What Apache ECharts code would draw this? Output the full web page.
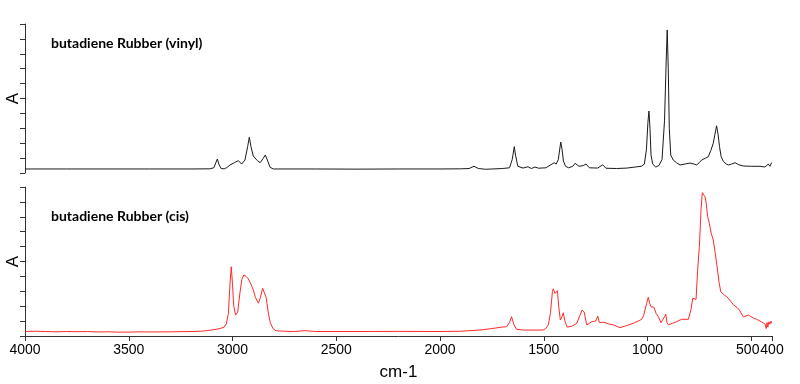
<!DOCTYPE html>
<html>
<head>
<meta charset="utf-8">
<script src="https://cdn.jsdelivr.net/npm/echarts@6/dist/echarts.min.js"></script>
<style>html,body{margin:0;padding:0;background:#fff;}#c{width:800px;height:384px;}</style>
</head>
<body>
<div id="c"></div>
<script>
const xTicks = [4000, 3500, 3000, 2500, 2000, 1500, 1000, 500, 400];
const titleVinyl = 'butadiene Rubber (vinyl)';
const titleCis = 'butadiene Rubber (cis)';

const vinylWn = [4000,3800,3600,3400,3200,3110,3090,3080,3073,3066,3055,3040,3028,3012,2990,2972,2956,2940,2927,2919,2911,2900,2880,2867,2852,2842,2832,2819,2803,2600,2400,2200,2000,1900,1860,1836,1815,1780,1700,1665,1652,1642,1636,1625,1600,1576,1560,1542,1525,1490,1460,1450,1440,1430,1418,1412,1405,1395,1380,1360,1349,1330,1310,1296,1280,1240,1216,1200,1150,1100,1060,1030,1015,1005,998,993,988,983,975,960,945,930,918,910,905,900,895,888,876,859,843,820,795,775,763,750,739,720,707,695,683,675,667,660,653,645,634,620,610,595,578,560,538,500,458,434,425,418,410,402];
const vinylA = [0.27,0.27,0.27,0.27,0.27,0.28,0.35,0.7,0.94,0.6,0.3,0.28,0.36,0.54,0.7,0.83,0.6,0.87,1.77,2.4,1.77,1.14,0.83,0.69,0.98,1.21,0.87,0.38,0.27,0.27,0.26,0.27,0.27,0.28,0.3,0.45,0.3,0.25,0.3,0.35,0.9,1.77,1.2,0.45,0.33,0.42,0.3,0.4,0.32,0.35,0.6,0.69,0.6,0.9,2.08,1.6,0.8,0.45,0.35,0.45,0.65,0.45,0.5,0.6,0.35,0.33,0.55,0.32,0.3,0.33,0.4,0.45,0.6,1.6,3.4,4.16,3.0,1.2,0.6,0.4,0.5,0.9,3.5,7.5,9.6,7.0,3.0,1.2,0.87,0.67,0.54,0.6,0.67,0.6,0.54,0.7,0.87,1.0,1.1,1.5,2.0,2.6,3.17,2.6,1.77,1.1,0.76,0.6,0.54,0.6,0.69,0.55,0.47,0.45,0.45,0.4,0.5,0.6,0.45,0.7];

const cisWn = [4000,3950,3900,3850,3800,3750,3700,3650,3600,3550,3500,3450,3400,3300,3200,3150,3100,3060,3040,3030,3020,3012,3006,3000,2994,2985,2975,2965,2955,2945,2935,2925,2915,2900,2890,2875,2865,2855,2848,2838,2828,2818,2805,2790,2750,2700,2651,2600,2400,2200,2000,1900,1807,1750,1700,1679,1665,1655,1645,1631,1600,1504,1490,1478,1468,1458,1454,1446,1441,1434,1428,1420,1412,1406,1398,1387,1365,1341,1325,1315,1305,1293,1280,1269,1250,1240,1232,1215,1205,1185,1165,1133,1100,1068,1045,1028,1018,1012,1004,996,990,983,975,969,958,948,935,927,918,912,906,900,880,860,836,803,790,782,774,766,758,750,742,736,730,723,718,710,702,693,683,674,664,655,647,630,618,600,586,560,538,514,490,474,450,434,428,424,420,415,410,405,402];
const cisA = [0.3,0.32,0.3,0.28,0.3,0.29,0.3,0.27,0.28,0.26,0.26,0.28,0.27,0.28,0.3,0.32,0.4,0.5,0.6,0.8,1.5,3.5,4.65,3.5,2.0,1.4,1.6,2.8,3.8,4.1,4.0,3.85,3.6,3.1,2.6,2.2,2.6,3.2,3.25,2.6,1.6,0.9,0.5,0.35,0.32,0.3,0.36,0.3,0.3,0.31,0.3,0.32,0.4,0.5,0.6,0.62,0.9,1.3,0.8,0.45,0.4,0.4,0.5,0.75,1.5,3.0,3.17,2.85,2.9,3.04,2.0,1.07,1.3,1.56,1.0,0.6,0.65,0.85,1.4,1.74,1.6,0.75,0.85,0.96,1.0,1.34,0.9,0.92,0.9,0.8,0.75,0.56,0.7,0.85,1.0,1.12,1.4,1.52,2.2,2.6,2.2,1.96,1.95,1.93,1.5,1.3,0.9,0.8,1.3,1.46,0.9,0.75,0.85,0.96,1.12,1.12,1.8,2.53,2.45,2.46,4.5,6.0,8.5,9.62,9.55,9.35,9.0,8.0,7.56,6.9,6.44,5.6,4.58,3.6,2.97,2.75,2.64,2.35,2.1,1.8,1.29,1.41,1.2,1.12,0.95,0.8,0.5,0.9,0.6,0.95,0.8,1.0,0.85];

function pairs(xs, ys) { return xs.map((x, i) => [x, ys[i]]); }

const chart = echarts.init(document.getElementById('c'), null, {renderer: 'canvas'});
const yAxisBase = (idx) => ({
  gridIndex: idx, type: 'value', min: 0, max: 10, interval: 1,
  name: 'A', nameLocation: 'middle', nameGap: 3,
  nameTextStyle: {fontFamily: 'Liberation Sans', fontSize: 17, color: '#000'},
  axisLine: {show: true, lineStyle: {color: '#333', width: 1}},
  axisTick: {show: true, length: 5, lineStyle: {color: '#333'}},
  axisLabel: {show: false},
  splitLine: {show: false}
});
const titleStyle = {fontFamily: 'Lato', fontWeight: 'bold', fontSize: 14, color: '#000'};
chart.setOption({
  animation: false,
  backgroundColor: '#fff',
  title: [
    {text: titleVinyl, left: 51, top: 36, padding: 0, textStyle: titleStyle},
    {text: titleCis, left: 51, top: 209, padding: 0, textStyle: titleStyle}
  ],
  grid: [
    {left: 25, right: 28, top: 24, height: 149, outerBoundsMode: 'none', containLabel: false},
    {left: 25, right: 28, top: 187, height: 149, outerBoundsMode: 'none', containLabel: false}
  ],
  xAxis: [
    {gridIndex: 0, type: 'value', min: 400, max: 4000, inverse: true, show: false, splitLine: {show: false}},
    {gridIndex: 1, type: 'value', min: 400, max: 4000, inverse: true,
     name: 'cm-1', nameLocation: 'middle', nameGap: 28,
     nameTextStyle: {fontFamily: 'Liberation Sans', fontSize: 17, color: '#000'},
     axisLine: {show: true, onZero: false, lineStyle: {color: '#333', width: 1}},
     axisTick: {show: true, length: 5, customValues: xTicks, lineStyle: {color: '#333'}},
     axisLabel: {customValues: xTicks, fontFamily: 'Liberation Sans', fontSize: 14, color: '#000', margin: 7,
       formatter: v => v === 500 ? '{a|500}' : String(v),
       rich: {a: {fontFamily: 'Liberation Sans', fontSize: 14, color: '#000', padding: [0, 7, 0, 0]}}},
     splitLine: {show: false}}
  ],
  yAxis: [yAxisBase(0), yAxisBase(1)],
  series: [
    {type: 'line', xAxisIndex: 0, yAxisIndex: 0, data: pairs(vinylWn, vinylA), showSymbol: false, symbol: 'none',
     lineStyle: {color: '#1a1a1a', width: 1}, smooth: false},
    {type: 'line', xAxisIndex: 1, yAxisIndex: 1, data: pairs(cisWn, cisA), showSymbol: false, symbol: 'none',
     lineStyle: {color: '#ff2a2a', width: 1}, smooth: false}
  ]
});
</script>
</body>
</html>
